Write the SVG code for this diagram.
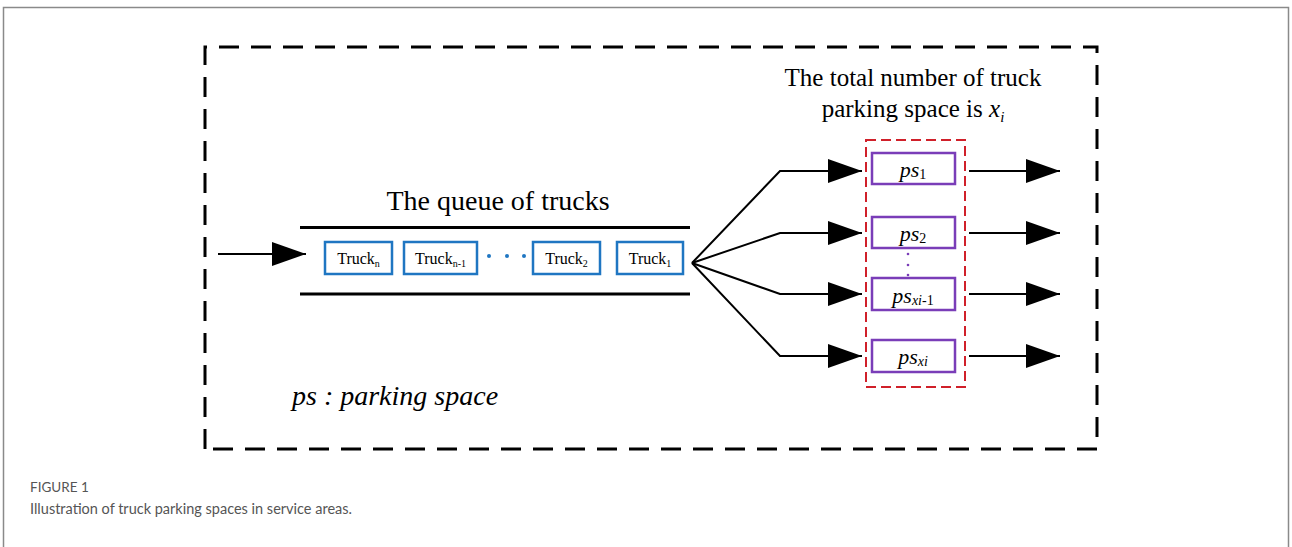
<svg xmlns="http://www.w3.org/2000/svg" width="1292" height="547" viewBox="0 0 1292 547">
<style>
.serif{font-family:"Liberation Serif","Times New Roman",serif;fill:#000}
.it{font-style:italic}
.truck{fill:#fff;stroke:#1f76c2;stroke-width:2.5}
.ps{fill:#fff;stroke:#7a3db8;stroke-width:2.5}
.conn{fill:none;stroke:#000;stroke-width:2}
.cap{font-family:Lato,"Open Sans",sans-serif;fill:#555}
</style>
<defs>
<marker id="arr" markerUnits="userSpaceOnUse" markerWidth="36" markerHeight="26" refX="34" refY="12" orient="auto">
<path d="M0,0 L34,12 L0,24 Z" fill="#000"/>
</marker>
</defs>
<rect x="3.5" y="7.5" width="1285" height="580" fill="#fff" stroke="#8a8a8a" stroke-width="1.5"/>
<path d="M205,449 L205,47 L1097,47 L1097,449 Z" fill="none" stroke="#000" stroke-width="3" stroke-dasharray="20 12"/>
<g id="queue">
<text class="serif" x="498" y="210" font-size="28" text-anchor="middle">The queue of trucks</text>
<line x1="300" y1="227.5" x2="690" y2="227.5" stroke="#000" stroke-width="3"/>
<line x1="300" y1="294" x2="690" y2="294" stroke="#000" stroke-width="3"/>
</g>
<g id="truck-n"><rect class="truck" x="325" y="242" width="67" height="32"/><text class="serif" x="358.5" y="264" font-size="16" text-anchor="middle">Truck<tspan font-size="10" dy="3">n</tspan></text></g>
<g id="truck-n-1"><rect class="truck" x="404" y="242" width="73" height="32"/><text class="serif" x="440.5" y="264" font-size="16" text-anchor="middle">Truck<tspan font-size="10" dy="3">n-1</tspan></text></g>
<g id="truck-dots" fill="#1f76c2"><circle cx="489" cy="256" r="2"/><circle cx="507" cy="256" r="2"/><circle cx="524" cy="256" r="2"/></g>
<g id="truck-2"><rect class="truck" x="533" y="242" width="67" height="32"/><text class="serif" x="566.5" y="264" font-size="16" text-anchor="middle">Truck<tspan font-size="10" dy="3">2</tspan></text></g>
<g id="truck-1"><rect class="truck" x="617" y="242" width="66" height="32"/><text class="serif" x="650" y="264" font-size="16" text-anchor="middle">Truck<tspan font-size="10" dy="3">1</tspan></text></g>
<g id="total-label">
<text class="serif" x="913" y="86" font-size="25" text-anchor="middle">The total number of truck</text>
<text class="serif" x="913" y="117" font-size="25" text-anchor="middle">parking space is <tspan class="it">x</tspan><tspan class="it" font-size="15" dy="5">i</tspan></text>
</g>
<g id="ps-group">
<rect x="866" y="140" width="99" height="247" fill="none" stroke="#d0202a" stroke-width="2" stroke-dasharray="10 5"/>
</g>
<g id="ps1"><rect class="ps" x="872" y="153" width="83" height="31"/><text class="serif" x="913" y="177" font-size="22" text-anchor="middle"><tspan class="it">ps</tspan><tspan font-size="14" dy="2">1</tspan></text></g>
<g id="ps2"><rect class="ps" x="872" y="217" width="83" height="31"/><text class="serif" x="913" y="241" font-size="22" text-anchor="middle"><tspan class="it">ps</tspan><tspan font-size="14" dy="2">2</tspan></text></g>
<g id="ps-dots" fill="#7a3db8"><circle cx="908" cy="254" r="1.3"/><circle cx="908" cy="265" r="1.3"/><circle cx="908" cy="275" r="1.3"/></g>
<g id="ps-xi-1"><rect class="ps" x="872" y="278" width="83" height="32"/><text class="serif" x="913" y="303" font-size="22" text-anchor="middle"><tspan class="it">ps</tspan><tspan font-size="14" dy="2"><tspan class="it">xi</tspan>-1</tspan></text></g>
<g id="ps-xi"><rect class="ps" x="872" y="340" width="83" height="32"/><text class="serif" x="913" y="364" font-size="22" text-anchor="middle"><tspan class="it">ps</tspan><tspan class="it" font-size="14" dy="2">xi</tspan></text></g>
<g id="connectors">
<path class="conn" d="M218,254 L306,254" marker-end="url(#arr)"/>
<path class="conn" d="M692,263 L780,171 L862,171" marker-end="url(#arr)"/>
<path class="conn" d="M692,263 L780,233 L862,233" marker-end="url(#arr)"/>
<path class="conn" d="M692,263 L780,294 L862,294" marker-end="url(#arr)"/>
<path class="conn" d="M692,263 L780,356 L862,356" marker-end="url(#arr)"/>
<path class="conn" d="M969,171 L1060,171" marker-end="url(#arr)"/>
<path class="conn" d="M969,233 L1060,233" marker-end="url(#arr)"/>
<path class="conn" d="M969,294 L1060,294" marker-end="url(#arr)"/>
<path class="conn" d="M969,356 L1060,356" marker-end="url(#arr)"/>
</g>
<text class="serif it" x="292" y="405" font-size="28">ps : parking space</text>
<text class="cap" x="30" y="492" font-size="13.5">FIGURE 1</text>
<text class="cap" x="30" y="514" font-size="14.5">Illustration of truck parking spaces in service areas.</text>
</svg>
